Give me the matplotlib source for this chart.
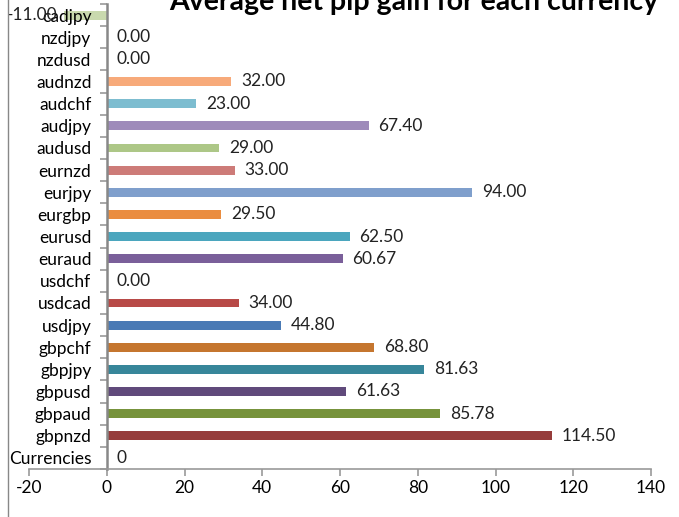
import numpy as np
import matplotlib
matplotlib.use('Agg')
import matplotlib.pyplot as plt
from matplotlib.lines import Line2D

plt.rcParams['font.family'] = ['Lato', 'DejaVu Sans']
plt.rcParams['axes.unicode_minus'] = False

# bottom to top, as in the chart
pairs = ['Currencies', 'gbpnzd', 'gbpaud', 'gbpusd', 'gbpjpy', 'gbpchf', 'usdjpy',
         'usdcad', 'usdchf', 'euraud', 'eurusd', 'eurgbp', 'eurjpy', 'eurnzd',
         'audusd', 'audjpy', 'audchf', 'audnzd', 'nzdusd', 'nzdjpy', 'cadjpy']
gains = [0, 114.50, 85.78, 61.63, 81.63, 68.80, 44.80, 34.00, 0.00, 60.67, 62.50,
         29.50, 94.00, 33.00, 29.00, 67.40, 23.00, 32.00, 0.00, 0.00, -11.00]
labels = ['0', '114.50', '85.78', '61.63', '81.63', '68.80', '44.80', '34.00', '0.00',
          '60.67', '62.50', '29.50', '94.00', '33.00', '29.00', '67.40', '23.00',
          '32.00', '0.00', '0.00', '-11.00']
colors = ['#4F81BD', '#963C3B', '#77933C', '#604A7B', '#37869A', '#C5762F', '#4A7AB5',
          '#B84A47', '#8064A2', '#7A5F9A', '#4BA6BE', '#EA8D40', '#7F9FCC', '#CD7B78',
          '#ADC787', '#9E8BBA', '#7DBDD0', '#F7AA7A', '#C0C0C0', '#C0C0C0', '#C9D9AE']

fig = plt.figure(figsize=(6.79, 5.17), dpi=100)
ax = fig.add_axes([29/679, 1 - 469/517, 622/679, 465/517])

y = np.arange(len(pairs))
ax.barh(y, gains, height=0.4, color=colors)

for yi, v, s in zip(y, gains, labels):
    if v < 0:
        ax.annotate(s, (v, yi), xytext=(-5, 0), textcoords='offset points',
                    ha='right', va='center', fontsize=12.5, color='#222222')
    else:
        ax.annotate(s, (v, yi), xytext=(7, 0), textcoords='offset points',
                    ha='left', va='center', fontsize=12.5, color='#222222')

ax.set_xlim(-20, 140)
ax.set_ylim(-0.5, len(pairs) - 0.5)
ax.set_xticks(np.arange(-20, 141, 20))
ax.set_yticks(y)
ax.set_yticklabels(pairs)
ax.set_yticks(np.arange(-0.5, len(pairs), 1.0), minor=True)
ax.tick_params(axis='y', which='major', length=0, pad=11, labelsize=12.5)
ax.tick_params(axis='y', which='minor', length=5, width=1.2, color='#999999', direction='out')
ax.tick_params(axis='x', length=5, width=1.2, color='#999999', labelsize=12.5, pad=3)

ax.spines['left'].set_position(('data', 0))
for side in ['top', 'right']:
    ax.spines[side].set_visible(False)
ax.spines['left'].set_color('#888888')
ax.spines['left'].set_linewidth(1.8)
ax.spines['bottom'].set_color('#999999')
ax.spines['bottom'].set_linewidth(1.2)

fig.text(414/679, 1 - 10/517, 'Average net pip gain for each currency',
         ha='center', va='baseline', fontsize=20.5, fontweight='bold')

fig.add_artist(Line2D([7.5/679, 7.5/679], [0, 1], color='#888888', lw=1.0))

fig.savefig('out.png', dpi=100)
